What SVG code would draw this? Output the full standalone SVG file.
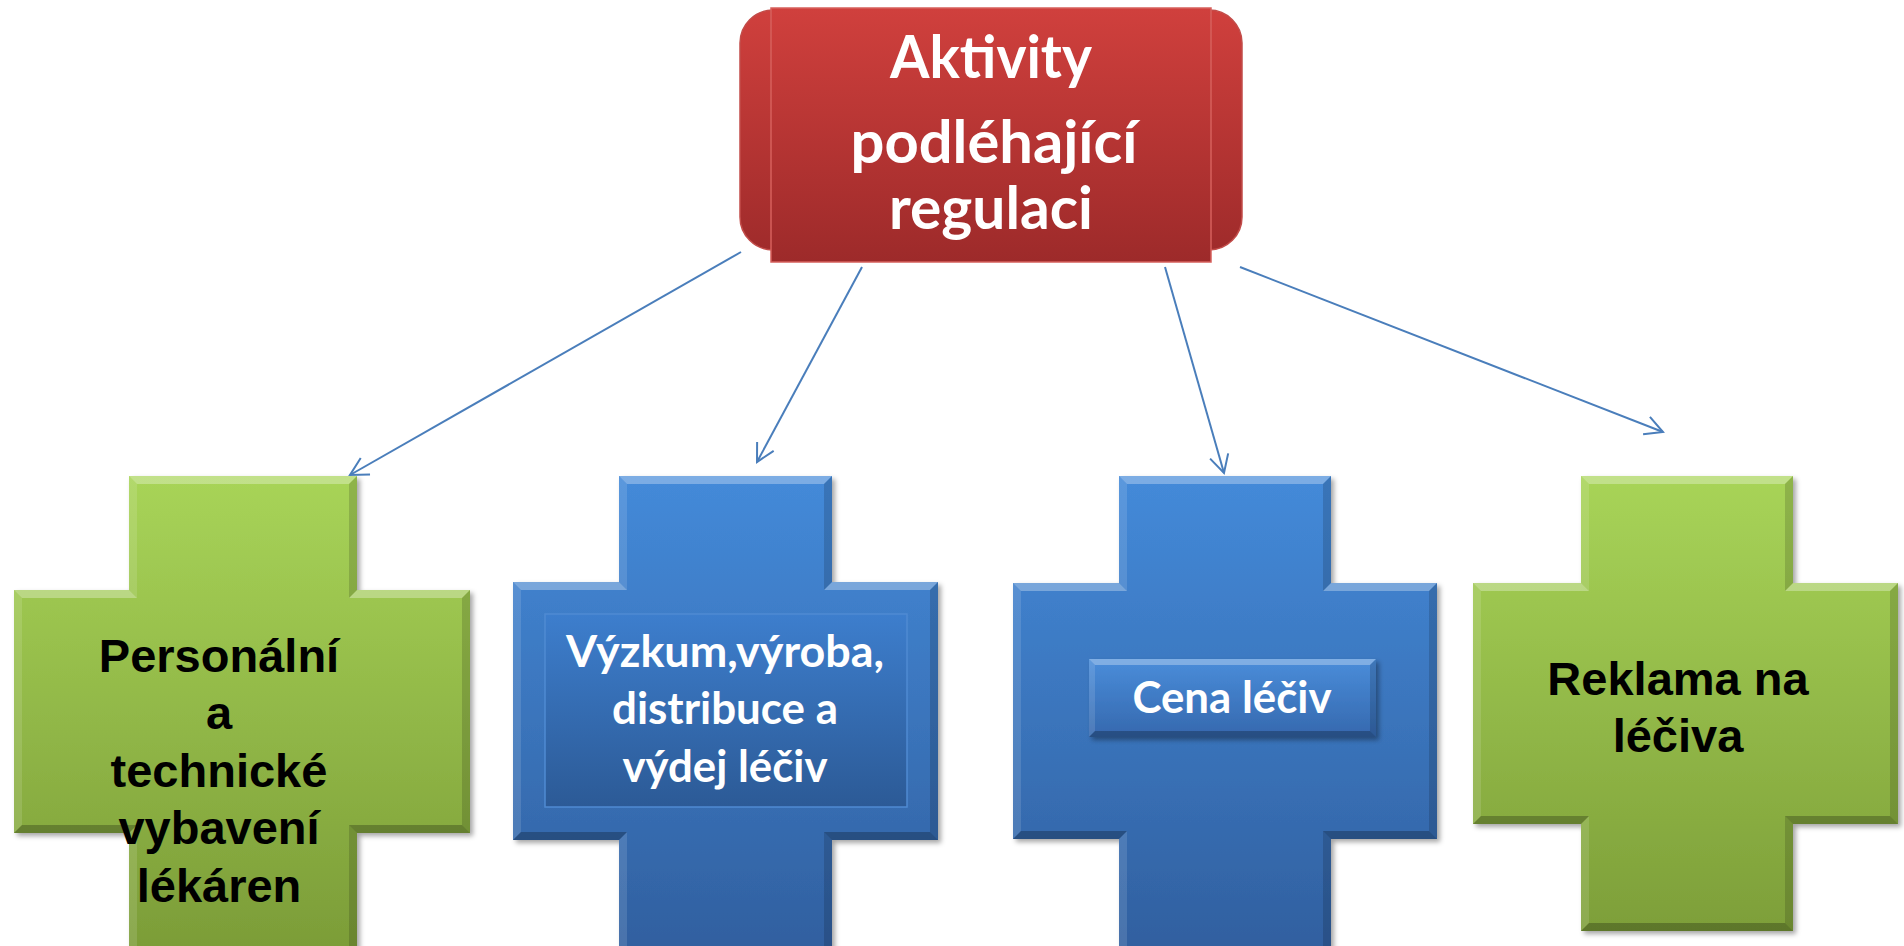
<svg xmlns="http://www.w3.org/2000/svg" width="1904" height="946" viewBox="0 0 1904 946">
<defs>
<linearGradient id="gGreen" gradientUnits="userSpaceOnUse" x1="0" y1="476" x2="0" y2="946"><stop offset="0" stop-color="#A8D458"/><stop offset="1" stop-color="#7C9D38"/></linearGradient>
<linearGradient id="gBlue" gradientUnits="userSpaceOnUse" x1="0" y1="476" x2="0" y2="946"><stop offset="0" stop-color="#448AD9"/><stop offset="1" stop-color="#3160A0"/></linearGradient>
<linearGradient id="gInner" gradientUnits="userSpaceOnUse" x1="0" y1="614" x2="0" y2="807"><stop offset="0" stop-color="#3D7ECD"/><stop offset="1" stop-color="#2C5A96"/></linearGradient>
<linearGradient id="gCena" gradientUnits="userSpaceOnUse" x1="0" y1="659" x2="0" y2="737"><stop offset="0" stop-color="#4A8DDA"/><stop offset="1" stop-color="#3568AE"/></linearGradient>
<linearGradient id="gRed" gradientUnits="userSpaceOnUse" x1="0" y1="8" x2="0" y2="262"><stop offset="0" stop-color="#D0403D"/><stop offset="1" stop-color="#9D2A2A"/></linearGradient>
<filter id="shadow" x="-10%" y="-10%" width="120%" height="120%"><feDropShadow dx="3" dy="3" stdDeviation="2.5" flood-color="#000" flood-opacity="0.35"/></filter>
<marker id="arr" markerUnits="userSpaceOnUse" viewBox="-22 -12 24 24" markerWidth="24" markerHeight="24" refX="0" refY="0" orient="auto"><path d="M-17.7,-9.4 L0,0 L-17.7,9.4" fill="none" stroke="#4A7EBB" stroke-width="2"/></marker>
</defs>
<style>
.bt{fill:#fff;fill-opacity:0.3}
.bl{fill:#fff;fill-opacity:0.12}
.br{fill:#000;fill-opacity:0.15}
.bb{fill:#000;fill-opacity:0.25}
.cal{font-family:Lato,"Open Sans","Noto Sans",sans-serif;font-weight:bold;fill:#fff;text-anchor:middle}
.ari{font-family:"Liberation Sans",Arial,sans-serif;font-weight:bold;fill:#000;text-anchor:middle;font-size:47px}
.conn{stroke:#4A7EBB;stroke-width:2;fill:none;marker-end:url(#arr)}
</style>
<rect width="1904" height="946" fill="#fff"/>

<g id="cross1">
<polygon points="129,476 357,476 357,590 470,590 470,833 357,833 357,990 129,990 129,833 14,833 14,590 129,590" fill="url(#gGreen)" filter="url(#shadow)"/>
<path class="bt" d="M129,476 L357,476 L349,484 L137,484 Z M357,590 L470,590 L462,598 L349,598 Z M14,590 L129,590 L137,598 L22,598 Z"/>
<path class="bl" d="M129,990 L129,833 L137,825 L137,982 Z M14,833 L14,590 L22,598 L22,825 Z M129,590 L129,476 L137,484 L137,598 Z"/>
<path class="br" d="M357,476 L357,590 L349,598 L349,484 Z M470,590 L470,833 L462,825 L462,598 Z M357,833 L357,990 L349,982 L349,825 Z"/>
<path class="bb" d="M470,833 L357,833 L349,825 L462,825 Z M357,990 L129,990 L137,982 L349,982 Z M129,833 L14,833 L22,825 L137,825 Z"/>
<text class="ari" x="219" y="672">Personální</text>
<text class="ari" x="219" y="729">a</text>
<text class="ari" x="219" y="787">technické</text>
<text class="ari" x="219" y="844">vybavení</text>
<text class="ari" x="219" y="902">lékáren</text>
</g>

<g id="cross2">
<polygon points="619,476 832,476 832,582 938,582 938,840 832,840 832,990 619,990 619,840 513,840 513,582 619,582" fill="url(#gBlue)" filter="url(#shadow)"/>
<path class="bt" d="M619,476 L832,476 L824,484 L627,484 Z M832,582 L938,582 L930,590 L824,590 Z M513,582 L619,582 L627,590 L521,590 Z"/>
<path class="bl" d="M619,990 L619,840 L627,832 L627,982 Z M513,840 L513,582 L521,590 L521,832 Z M619,582 L619,476 L627,484 L627,590 Z"/>
<path class="br" d="M832,476 L832,582 L824,590 L824,484 Z M938,582 L938,840 L930,832 L930,590 Z M832,840 L832,990 L824,982 L824,832 Z"/>
<path class="bb" d="M938,840 L832,840 L824,832 L930,832 Z M832,990 L619,990 L627,982 L824,982 Z M619,840 L513,840 L521,832 L627,832 Z"/>
<rect x="545" y="614" width="362" height="193" fill="url(#gInner)" stroke="#4F8AD2" stroke-width="1.5"/>
<text class="cal" x="725" y="667" font-size="44" textLength="318" lengthAdjust="spacingAndGlyphs">Výzkum,výroba,</text>
<text class="cal" x="725" y="724" font-size="44" textLength="226" lengthAdjust="spacingAndGlyphs">distribuce a</text>
<text class="cal" x="725" y="782" font-size="44" textLength="205" lengthAdjust="spacingAndGlyphs">výdej léčiv</text>
</g>

<g id="cross3">
<polygon points="1119,476 1331,476 1331,583 1437,583 1437,839 1331,839 1331,990 1119,990 1119,839 1013,839 1013,583 1119,583" fill="url(#gBlue)" filter="url(#shadow)"/>
<path class="bt" d="M1119,476 L1331,476 L1323,484 L1127,484 Z M1331,583 L1437,583 L1429,591 L1323,591 Z M1013,583 L1119,583 L1127,591 L1021,591 Z"/>
<path class="bl" d="M1119,990 L1119,839 L1127,831 L1127,982 Z M1013,839 L1013,583 L1021,591 L1021,831 Z M1119,583 L1119,476 L1127,484 L1127,591 Z"/>
<path class="br" d="M1331,476 L1331,583 L1323,591 L1323,484 Z M1437,583 L1437,839 L1429,831 L1429,591 Z M1331,839 L1331,990 L1323,982 L1323,831 Z"/>
<path class="bb" d="M1437,839 L1331,839 L1323,831 L1429,831 Z M1331,990 L1119,990 L1127,982 L1323,982 Z M1119,839 L1013,839 L1021,831 L1127,831 Z"/>
<rect x="1089" y="659" width="287" height="78" fill="url(#gCena)" filter="url(#shadow)"/>
<path class="bt" d="M1089,659 L1376,659 L1370,665 L1095,665 Z"/>
<path class="bl" d="M1089,737 L1089,659 L1095,665 L1095,731 Z"/>
<path class="br" d="M1376,659 L1376,737 L1370,731 L1370,665 Z"/>
<path class="bb" d="M1376,737 L1089,737 L1095,731 L1370,731 Z"/>
<text class="cal" x="1232" y="713" font-size="44" textLength="199" lengthAdjust="spacingAndGlyphs">Cena léčiv</text>
</g>

<g id="cross4">
<polygon points="1581,476 1793,476 1793,583 1898,583 1898,824 1793,824 1793,931 1581,931 1581,824 1473,824 1473,583 1581,583" fill="url(#gGreen)" filter="url(#shadow)"/>
<path class="bt" d="M1581,476 L1793,476 L1785,484 L1589,484 Z M1793,583 L1898,583 L1890,591 L1785,591 Z M1473,583 L1581,583 L1589,591 L1481,591 Z"/>
<path class="bl" d="M1581,931 L1581,824 L1589,816 L1589,923 Z M1473,824 L1473,583 L1481,591 L1481,816 Z M1581,583 L1581,476 L1589,484 L1589,591 Z"/>
<path class="br" d="M1793,476 L1793,583 L1785,591 L1785,484 Z M1898,583 L1898,824 L1890,816 L1890,591 Z M1793,824 L1793,931 L1785,923 L1785,816 Z"/>
<path class="bb" d="M1898,824 L1793,824 L1785,816 L1890,816 Z M1793,931 L1581,931 L1589,923 L1785,923 Z M1581,824 L1473,824 L1481,816 L1589,816 Z"/>
<text class="ari" x="1678" y="695">Reklama na</text>
<text class="ari" x="1678" y="752">léčiva</text>
</g>

<g id="top">
<rect x="740" y="10" width="502" height="240" rx="33" ry="33" fill="url(#gRed)" stroke="#C24C49" stroke-width="1.5"/>
<rect x="771" y="8" width="440" height="254" fill="url(#gRed)" stroke="#D6605C" stroke-width="1.5"/>
<text class="cal" x="991" y="78" font-size="59" textLength="202" lengthAdjust="spacingAndGlyphs">Aktivity</text>
<text class="cal" x="994" y="163" font-size="59" textLength="287" lengthAdjust="spacingAndGlyphs">podléhající</text>
<text class="cal" x="991" y="229" font-size="59" textLength="204" lengthAdjust="spacingAndGlyphs">regulaci</text>
</g>

<g id="connectors">
<line class="conn" x1="741" y1="252" x2="350" y2="475"/>
<line class="conn" x1="862" y1="267" x2="757" y2="462"/>
<line class="conn" x1="1165" y1="267" x2="1224" y2="473"/>
<line class="conn" x1="1240" y1="267" x2="1663" y2="432"/>
</g>
</svg>
